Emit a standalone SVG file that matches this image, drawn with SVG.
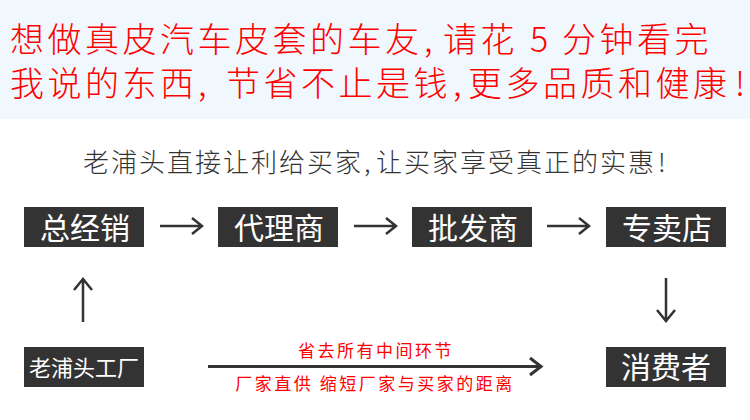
<svg xmlns="http://www.w3.org/2000/svg" width="750" height="420" viewBox="0 0 750 420">
<style>
.cjk{font-family:"Noto Sans CJK SC","Noto Sans",sans-serif}
.title{fill:#ff0000;font-size:34px;font-weight:300;letter-spacing:3.5px}
.sub{fill:#333;font-size:26px;font-weight:300;letter-spacing:2px}
.box{fill:#333}
.bt{fill:#fff;font-size:30px;text-anchor:middle}
.red{fill:#ff0000;font-size:17px;letter-spacing:2.5px;text-anchor:middle}
.arr{fill:none;stroke:#333;stroke-width:2.5;stroke-linecap:butt}
</style>
<rect x="0" y="0" width="750" height="119" fill="#f0f8fd"/>
<rect x="0" y="119" width="750" height="301" fill="#fff"/>
<g id="title" class="cjk title">
<text y="52"><tspan x="10">想做真皮汽车皮套的车友</tspan><tspan x="424">,</tspan><tspan x="443">请花</tspan><tspan x="530">5</tspan><tspan x="562">分钟看完</tspan></text>
<text y="96"><tspan x="10">我说的东西</tspan><tspan x="198">,</tspan><tspan x="226">节省不止是钱</tspan><tspan x="453">,</tspan><tspan x="468">更多品质和健康</tspan><tspan x="735">!</tspan></text>
</g>
<g id="subtitle" class="cjk sub">
<text y="172"><tspan x="83">老浦头直接让利给买家</tspan><tspan x="364">,</tspan><tspan x="376">让买家享受真正的实惠</tspan><tspan x="658">!</tspan></text>
</g>
<g id="n1"><rect class="box" x="24" y="207" width="120" height="40"/><text class="cjk bt" x="85" y="239">总经销</text></g>
<g id="n2"><rect class="box" x="218" y="207" width="120" height="40"/><text class="cjk bt" x="279" y="239">代理商</text></g>
<g id="n3"><rect class="box" x="412" y="207" width="120" height="40"/><text class="cjk bt" x="473" y="239">批发商</text></g>
<g id="n4"><rect class="box" x="606" y="207" width="120" height="40"/><text class="cjk bt" x="667" y="239">专卖店</text></g>
<g id="n5"><rect class="box" x="24" y="347" width="120" height="40"/><text class="cjk bt" style="font-size:22px" x="84" y="376">老浦头工厂</text></g>
<g id="n6"><rect class="box" x="606" y="347" width="120" height="40"/><text class="cjk bt" x="666" y="378">消费者</text></g>
<g id="connectors">
<path class="arr" d="M160 226H202M192 218L202 226L192 234"/>
<path class="arr" d="M354 226H396M386 218L396 226L386 234"/>
<path class="arr" d="M547 226H589M579 218L589 226L579 234"/>
<path class="arr" d="M83 322V279M74 290L83 279L92 290"/>
<path class="arr" d="M666 278V321M657 310L666 321L675 310"/>
<path class="arr" style="stroke-width:3" d="M208 366.5H541M530 358L541 366.5L530 375"/>
</g>
<g id="labels" class="cjk red">
<text x="376" y="357">省去所有中间环节</text>
<text x="375" y="390">厂家直供 缩短厂家与买家的距离</text>
</g>
</svg>
